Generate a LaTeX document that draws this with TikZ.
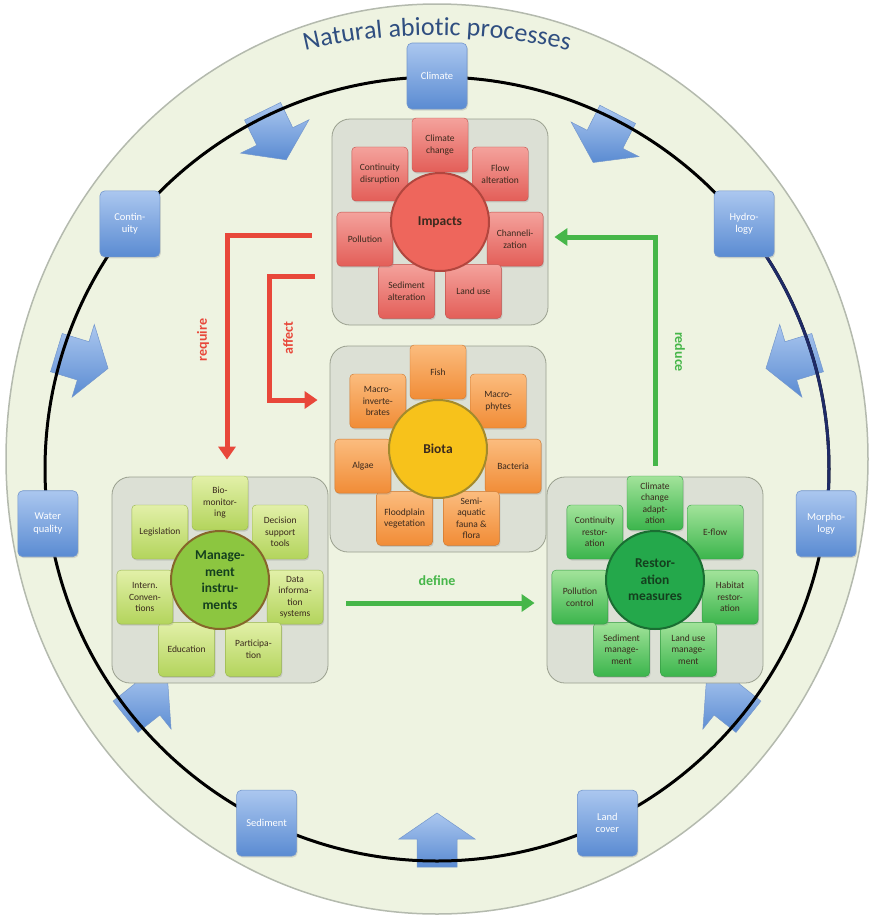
\documentclass[tikz,border=0pt]{standalone}
\usepackage{fontspec}
\setmainfont{Carlito}
\usetikzlibrary{arrows.meta,positioning,calc,shadows,decorations.text}
\definecolor{paper}{HTML}{EEF3E1}
\definecolor{rim}{HTML}{B4BAAE}
\definecolor{navy}{HTML}{1E2A66}
\definecolor{titleblue}{HTML}{2F4E80}
\definecolor{boxtop}{HTML}{ABC7EF}
\definecolor{boxbot}{HTML}{5A8BD2}
\definecolor{boxline}{HTML}{7497CC}
\definecolor{grpfill}{HTML}{DCE0D5}
\definecolor{grpline}{HTML}{9AA08F}
\definecolor{redtop}{HTML}{F4A29C}
\definecolor{redbot}{HTML}{E35E58}
\definecolor{orgtop}{HTML}{FBBC7E}
\definecolor{orgbot}{HTML}{F18C36}
\definecolor{lgtop}{HTML}{E2F0A8}
\definecolor{lgbot}{HTML}{B3D45C}
\definecolor{grtop}{HTML}{A2E39A}
\definecolor{grbot}{HTML}{3BB54C}
\definecolor{impred}{HTML}{EE665C}
\definecolor{impedge}{HTML}{B2463E}
\definecolor{biogold}{HTML}{F7C21B}
\definecolor{bioedge}{HTML}{A38A2C}
\definecolor{mgtgreen}{HTML}{8CC640}
\definecolor{mgtedge}{HTML}{86662A}
\definecolor{resgreen}{HTML}{24A84B}
\definecolor{resedge}{HTML}{1A6E32}
\definecolor{arrred}{HTML}{E8473A}
\definecolor{arrgreen}{HTML}{46B649}
\definecolor{txtbrown}{HTML}{3B2A1E}
\definecolor{txtgreen}{HTML}{143F1E}
\tikzset{
  factorbox/.style={draw=boxline,line width=0.6pt,rounded corners=5pt,
                    top color=boxtop,bottom color=boxbot,
                    minimum width=60pt,minimum height=66pt,inner sep=1pt,
                    align=center,text=white,font=\fontsize{10.5}{12.5}\selectfont,
                    drop shadow={opacity=.25,shadow xshift=1pt,shadow yshift=-1.5pt}},
  groupbox/.style={draw=grpline,fill=grpfill,line width=0.8pt,rounded corners=18pt,
                   minimum width=216pt,minimum height=206pt},
  itembox/.style={rounded corners=4pt,minimum width=56pt,minimum height=54pt,
                  inner sep=1pt,align=center,text=txtbrown,
                  font=\fontsize{9.5}{11.5}\selectfont,
                  drop shadow={opacity=.25,shadow xshift=1pt,shadow yshift=-1.5pt}},
  impbox/.style={itembox,draw=redbot!85!black,top color=redtop,bottom color=redbot},
  biobox/.style={itembox,draw=orgbot!85!black,top color=orgtop,bottom color=orgbot},
  mgtbox/.style={itembox,draw=lgbot!85!black,top color=lgtop,bottom color=lgbot},
  resbox/.style={itembox,draw=grbot!85!black,top color=grtop,bottom color=grbot},
  hubcircle/.style={circle,minimum size=98pt,line width=2pt,align=center,
                    font=\bfseries\fontsize{13.5}{16.5}\selectfont},
  inflow/.style={draw=boxline,line width=0.5pt,top color=boxtop,bottom color=boxbot},
  flowred/.style={arrred,line width=5pt,-{Triangle[length=13pt,width=17pt]}},
  flowgreen/.style={arrgreen,line width=5pt,-{Triangle[length=13pt,width=17pt]}},
  verb/.style={font=\bfseries\fontsize{14}{16}\selectfont}
}

\begin{document}
\begin{tikzpicture}[x=1pt,y=-1pt]
  \useasboundingbox (0,0) rectangle (874,919);
  \coordinate (C) at (437,469);
  \path[fill=paper,draw=rim,line width=1.5pt] (437,459) ellipse [x radius=431,y radius=455];
  \path[decorate,decoration={text along path,text align=center,
      text={|\color{titleblue}\fontsize{26}{30}\selectfont|Natural abiotic processes}}]
    ($(437,604)+(-112:569)$) arc[start angle=-112,end angle=-68,radius=569];

  % abiotic drivers pushing inwards
  \foreach \ang in {-116,-63,-17,38.5,90,141.5,197} {
    \path[inflow] ($(C)+(\ang:398)+(\ang+90:20)$) -- ($(C)+(\ang:370)+(\ang+90:20)$)
      -- ($(C)+(\ang:370)+(\ang+90:38)$) -- ($(C)+(\ang:344)$)
      -- ($(C)+(\ang:370)+(\ang-90:38)$) -- ($(C)+(\ang:370)+(\ang-90:20)$)
      -- ($(C)+(\ang:398)+(\ang-90:20)$) -- cycle;
  }
  \draw[line width=3pt] (C) circle [radius=392];
  \draw[navy,line width=3pt] ($(C)+(-38.6:392)$) arc[start angle=-38.6,end angle=8,radius=392];
  \foreach \ang/\t [count=\k] in {-90/Climate,-38.6/Hydro-\\logy,8/Morpho-\\logy,
      64.3/Land\\cover,115.7/Sediment,172/Water\\quality,218.6/Contin-\\uity}
    \node[factorbox] (factor\k) at ($(C)+(\ang:393)$) {\t};

  % impacts
  \node[groupbox] (impgrp) at (440,222) {};
  \foreach \t [count=\k from 0] in {Climate\\change,Flow\\alteration,Channeli-\\zation,
      Land use,Sediment\\alteration,Pollution,Continuity\\disruption}
    \node[impbox] (imp\k) at ($(impgrp)+({-90+\k*360/7}:77)$) {\t};
  \node[hubcircle,draw=impedge,fill=impred,text=txtbrown] (impacts) at (impgrp) {Impacts};

  % biota
  \node[groupbox] (biogrp) at (438,449) {};
  \foreach \t [count=\k from 0] in {Fish,Macro-\\phytes,Bacteria,Semi-\\aquatic\\fauna \&\\flora,
      Floodplain\\vegetation,Algae,Macro-\\inverte-\\brates}
    \node[biobox] (bio\k) at ($(biogrp)+({-90+\k*360/7}:77)$) {\t};
  \node[hubcircle,draw=bioedge,fill=biogold,text=txtbrown] (biota) at (biogrp) {Biota};

  % management instruments
  \node[groupbox] (mgtgrp) at (220,580) {};
  \foreach \t [count=\k from 0] in {Bio-\\monitor-\\ing,Decision\\support\\tools,
      Data\\informa-\\tion\\systems,Participa-\\tion,Education,Intern.\\Conven-\\tions,Legislation}
    \node[mgtbox] (mgt\k) at ($(mgtgrp)+({-90+\k*360/7}:77)$) {\t};
  \node[hubcircle,draw=mgtedge,fill=mgtgreen,text=txtgreen] (management) at (mgtgrp)
    {Manage-\\ment\\instru-\\ments};

  % restoration measures
  \node[groupbox] (resgrp) at (655,580) {};
  \foreach \t [count=\k from 0] in {Climate\\change\\adapt-\\ation,E-flow,Habitat\\restor-\\ation,
      Land use\\manage-\\ment,Sediment\\manage-\\ment,Pollution\\control,Continuity\\restor-\\ation}
    \node[resbox] (res\k) at ($(resgrp)+({-90+\k*360/7}:77)$) {\t};
  \node[hubcircle,draw=resedge,fill=resgreen,text=txtgreen] (restoration) at (resgrp)
    {Restor-\\ation\\measures};

  \draw[flowred] ([xshift=-20pt,yshift=-13pt]impgrp.west) -| ([xshift=7pt,yshift=17pt]mgtgrp.north);
  \draw[flowred] ([xshift=-17pt,yshift=-54pt]impgrp.west) -- ++(-45,0)
    |- ([xshift=-12pt,yshift=49pt]biogrp.west);
  \draw[flowgreen] ([yshift=11pt]resgrp.north) |- ([xshift=6pt,yshift=-15pt]impgrp.east);
  \draw[flowgreen] ([xshift=18pt,yshift=-23pt]mgtgrp.east) -- ([xshift=-12pt,yshift=-23pt]resgrp.west);
  \node[verb,text=arrred,rotate=90] (require) at (203,340) {require};
  \node[verb,text=arrred,rotate=90] (affect) at (288,338) {affect};
  \node[verb,text=arrgreen,rotate=-90] (reduce) at (680,352) {reduce};
  \node[verb,text=arrgreen] (define) at (437,581) {define};
\end{tikzpicture}
\end{document}
